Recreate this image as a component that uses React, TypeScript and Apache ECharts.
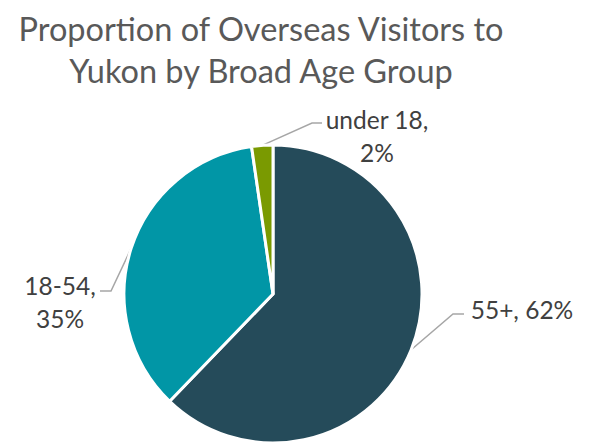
import React, { useEffect, useRef } from "react";
import * as echarts from "echarts";

const categories = ["55+", "18-54", "under 18"];
const shares = [62.2, 35.5, 2.3];
const labelTexts = ["55+, 62%", "18-54,\n35%", "under 18,\n2%"];
const colors = ["#254B5A", "#0196A6", "#7A9A01"];

export default function App() {
  const ref = useRef<HTMLDivElement>(null);
  useEffect(() => {
    document.body.style.margin = "0";
    const chart = echarts.init(ref.current!, null, { renderer: "svg" });
    const labelPos: Record<number, { x: number; y: number; bend: number[][] }> = {
      0: { x: 522, y: 309, bend: [[453, 314], [464, 314]] },
      1: { x: 60, y: 302, bend: [[111, 291], [100, 291]] },
      2: { x: 377, y: 136, bend: [[312, 123], [322, 123]] },
    };
    chart.setOption({
      animation: false,
      backgroundColor: "#ffffff",
      title: {
        text: "Proportion of Overseas Visitors to\nYukon by Broad Age Group",
        left: 256,
        top: 2,
        textAlign: "center",
        textStyle: {
          fontFamily: "Lato",
          fontWeight: "normal",
          fontSize: 32.5,
          lineHeight: 42,
          color: "#595959",
        },
      },
      series: [
        {
          type: "pie",
          center: [273, 294],
          radius: [0, 149],
          startAngle: 90,
          clockwise: true,
          itemStyle: { borderColor: "#ffffff", borderWidth: 3 },
          data: categories.map((c, i) => ({
            name: c,
            value: shares[i],
            itemStyle: { color: colors[i] },
            label: { formatter: labelTexts[i] },
          })),
          label: {
            show: true,
            position: "outside",
            fontFamily: "Lato",
            fontSize: 24.5,
            lineHeight: 33,
            color: "#404040",
            align: "center",
          },
          labelLine: {
            show: true,
            lineStyle: { color: "#A6A6A6", width: 1.5 },
          },
          labelLayout: (params: any) => {
            const p = labelPos[params.dataIndex];
            const start = params.labelLinePoints ? params.labelLinePoints[0] : p.bend[0];
            return {
              x: p.x,
              y: p.y,
              align: "center",
              verticalAlign: "middle",
              labelLinePoints: [start, p.bend[0], p.bend[1]],
            };
          },
        },
      ],
    });
    return () => chart.dispose();
  }, []);
  return <div ref={ref} style={{ width: 594, height: 445 }} />;
}
